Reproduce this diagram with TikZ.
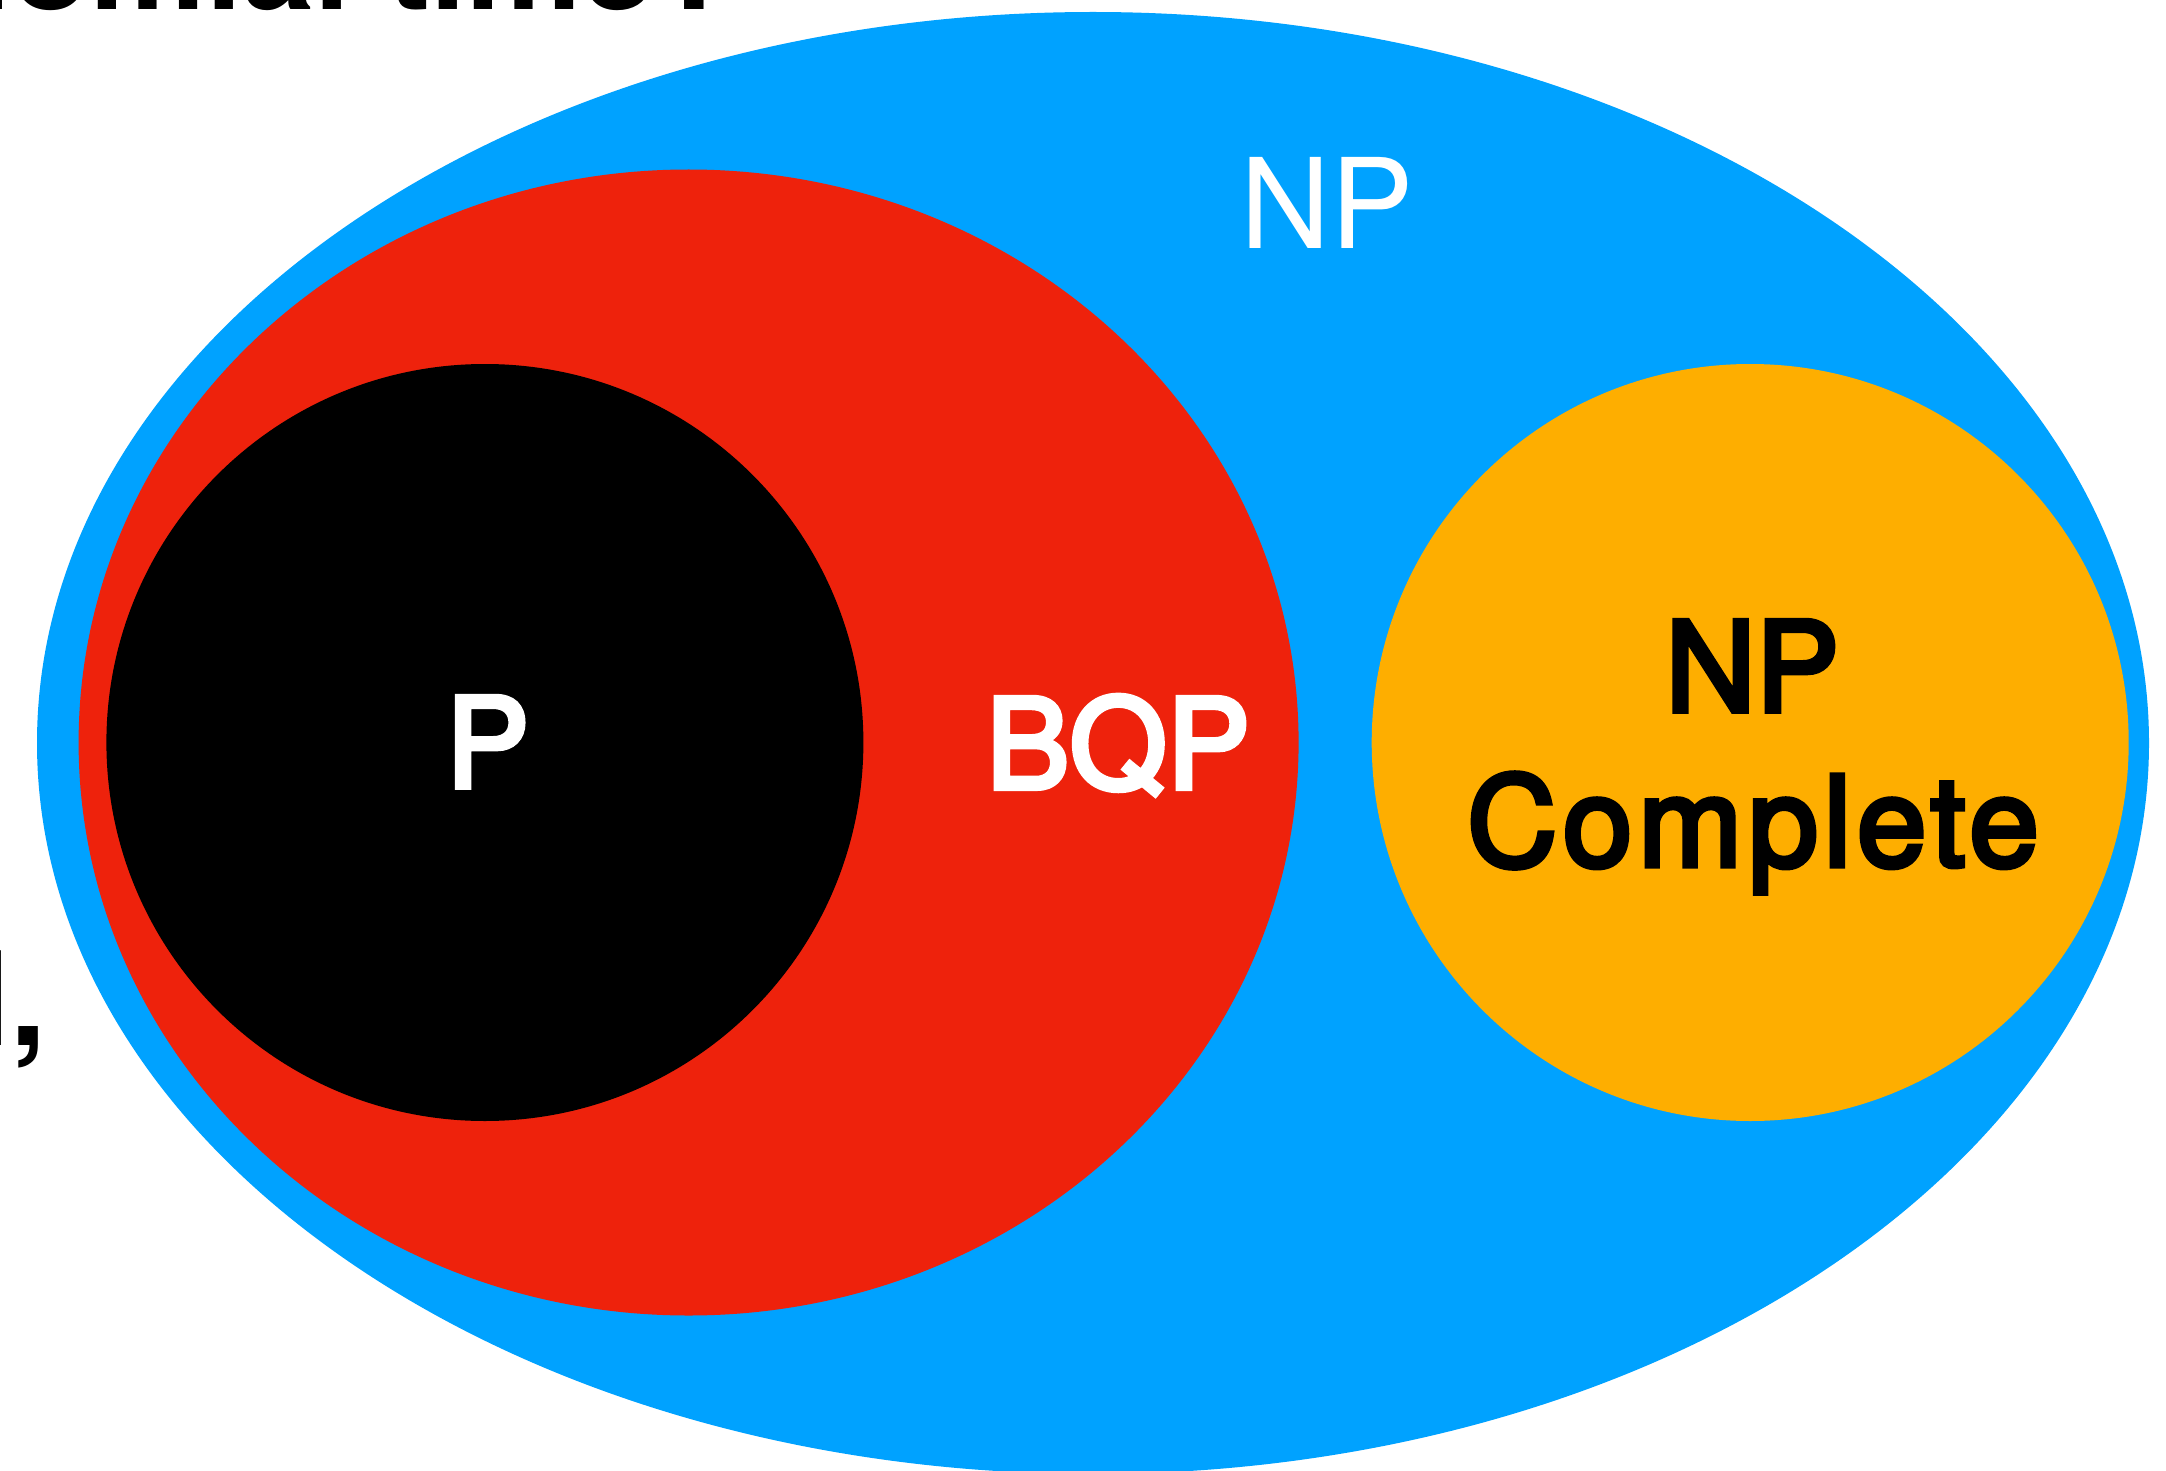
\documentclass[tikz,border=0pt]{standalone}
\usepackage{fontspec}
\setmainfont{TeX Gyre Heros}
\newfontfamily\heromed[FakeBold=4]{TeX Gyre Heros}
\newfontfamily\heromedwide[FakeBold=4,LetterSpace=4.5]{TeX Gyre Heros}
\definecolor{npblue}{RGB}{0,162,255}
\definecolor{bqpred}{RGB}{238,34,12}
\definecolor{npcorange}{RGB}{254,174,0}
\tikzset{
  lbl/.style={anchor=base, inner sep=0pt, font=\fontsize{125}{150}\selectfont},
  lblb/.style={lbl, font=\heromed\fontsize{125}{150}\selectfont},
  lblw/.style={lbl, font=\heromedwide\fontsize{125}{150}\selectfont},
  frag/.style={inner sep=0pt, font=\fontsize{130}{156}\selectfont\bfseries, text=black}
}
\begin{document}
\begin{tikzpicture}[x=1pt,y=-1pt]
\useasboundingbox (0,0) rectangle (2166,1471);
\clip (0,0) rectangle (2166,1471);
\fill[white] (0,0) rectangle (2166,1471);
% sets
\fill[npblue] (1093,743) ellipse [x radius=1056, y radius=731];
\fill[bqpred] (688.6,742.5) ellipse [x radius=610, y radius=573];
\fill[black] (484.9,742.5) circle [radius=378.5];
\fill[npcorange] (1750.2,742.5) circle [radius=378.5];
% labels
\node[lbl, text=white] (np) at (1327.5,248.6) {NP};
\node[lblb, text=white] (p) at (487.6,787.4) {P};
\node[lblb, text=white] (bqp) at (1118.2,788.5) {BQP};
\node[lblb, text=black] (npc1) at (1752.3,711.4) {NP};
\node[lblw, text=black] (npc2) at (1753,866.1) {Complete};
% cut-off slide text fragments
\node[frag, anchor=base east] (top) at (734,10) {polynomial time?};
\node[frag, anchor=base west] (left) at (-26,1045) {l,};
\end{tikzpicture}
\end{document}
